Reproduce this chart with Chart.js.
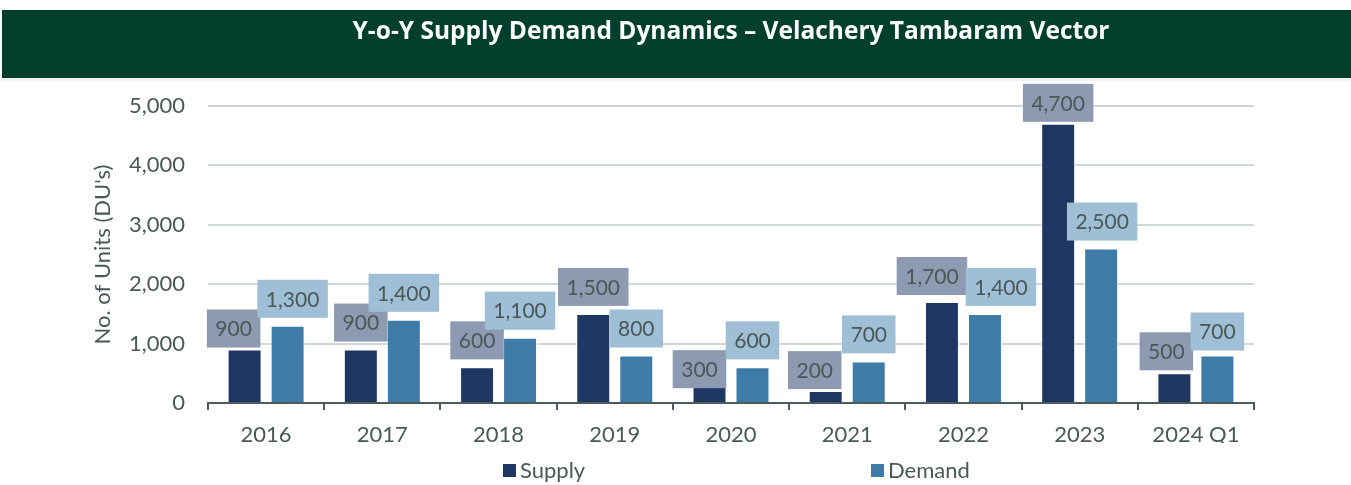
<!DOCTYPE html>
<html>
<head>
<meta charset="utf-8">
<script src="https://cdn.jsdelivr.net/npm/chart.js@4/dist/chart.umd.min.js"></script>
<style>
  html, body { margin: 0; padding: 0; background: #ffffff; }
  #wrap { position: relative; width: 1351px; height: 485px; }
</style>
</head>
<body>
<div id="wrap"><canvas id="c" width="1351" height="485"></canvas></div>
<script>
// ---- data ----
const categories = ['2016', '2017', '2018', '2019', '2020', '2021', '2022', '2023', '2024 Q1'];
const supplyValues = [900, 900, 600, 1500, 300, 200, 1700, 4700, 500];
const demandValues = [1300, 1400, 1100, 800, 600, 700, 1500, 2600, 800];
const supplyLabels = ['900', '900', '600', '1,500', '300', '200', '1,700', '4,700', '500'];
const demandLabels = ['1,300', '1,400', '1,100', '800', '600', '700', '1,400', '2,500', '700'];
const yTicks = [0, 1000, 2000, 3000, 4000, 5000];
const titleText = 'Y-o-Y Supply Demand Dynamics \u2013 Velachery Tambaram Vector';
const yTitle = "No. of Units (DU's)";
const seriesNames = ['Supply', 'Demand'];

// ---- style ----
const C = {
  supply: '#1f3763', demand: '#3e7ba7',
  supplyBox: '#8e99b2', demandBox: '#9ebfd6',
  text: '#4a5858', grid: '#d0d7d7', axis: '#4b5a5a', banner: '#013f2d'
};
const FONT = 'Lato, "Open Sans", sans-serif';

const bannerPlugin = {
  id: 'banner',
  beforeDraw(chart, args, opts) {
    const ctx = chart.ctx;
    ctx.save();
    ctx.fillStyle = '#ffffff';
    ctx.fillRect(0, 0, chart.width, chart.height);
    ctx.fillStyle = C.banner;
    ctx.fillRect(2, 10, chart.width - 2, 68);
    ctx.fillStyle = '#eff2f1';
    ctx.fillRect(2, 78, chart.width - 2, 3);
    ctx.fillStyle = '#ffffff';
    ctx.font = 'bold 24.5px "Open Sans", sans-serif';
    ctx.textAlign = 'center';
    ctx.textBaseline = 'middle';
    ctx.fillText(opts.text, 731, 32);
    ctx.restore();
  }
};

const labelPlugin = {
  id: 'boxLabels',
  afterDatasetsDraw(chart, args, opts) {
    const ctx = chart.ctx;
    ctx.save();
    ctx.font = '21px ' + FONT;
    ctx.textAlign = 'center';
    ctx.textBaseline = 'middle';
    chart.data.datasets.forEach((ds, di) => {
      const meta = chart.getDatasetMeta(di);
      const texts = opts.texts[di];
      const nudge = opts.nudges[di];
      meta.data.forEach((bar, i) => {
        const t = texts[i];
        const w = ctx.measureText(t).width + 17;
        const h = 38;
        const cx = bar.x + nudge[i][0];
        const bottom = bar.y - 8 + nudge[i][1];
        ctx.fillStyle = opts.boxColors[di];
        ctx.fillRect(cx - w / 2, bottom - h, w, h);
        ctx.fillStyle = C.text;
        ctx.fillText(t, cx, bottom - h / 2 + 1);
      });
    });
    ctx.restore();
  }
};

const legendPlugin = {
  id: 'customLegend',
  afterDraw(chart, args, opts) {
    const ctx = chart.ctx;
    ctx.save();
    ctx.font = '22px ' + FONT;
    ctx.textBaseline = 'middle';
    ctx.textAlign = 'left';
    opts.items.forEach(it => {
      ctx.fillStyle = it.color;
      ctx.fillRect(it.x, 464, 13, 13);
      ctx.fillStyle = C.text;
      ctx.fillText(it.text, it.x + 17, 471);
    });
    ctx.restore();
  }
};

new Chart(document.getElementById('c'), {
  type: 'bar',
  data: {
    labels: categories,
    datasets: [
      { label: seriesNames[0], data: supplyValues, backgroundColor: C.supply, borderColor: '#ffffff', borderWidth: 1,
        categoryPercentage: 0.74, barPercentage: 0.79 },
      { label: seriesNames[1], data: demandValues, backgroundColor: C.demand, borderColor: '#ffffff', borderWidth: 1,
        categoryPercentage: 0.74, barPercentage: 0.79 }
    ]
  },
  options: {
    responsive: false,
    animation: false,
    events: [],
    layout: { padding: { left: 0, right: 97, top: 106, bottom: 42 } },
    plugins: {
      legend: { display: false },
      tooltip: { enabled: false },
      title: { display: false },
      banner: { text: titleText },
      boxLabels: {
        texts: [supplyLabels, demandLabels],
        boxColors: [C.supplyBox, C.demandBox],
        nudges: [
          [[-11, 6], [0, 0], [0, 0], [0, 0], [-10, 11], [-11, 6], [-10, 1], [0, 6], [-8, 5]],
          [[5, 0], [0, 0], [0, 0], [0, 0], [0, 0], [0, 0], [16, 0], [1, 0], [0, 3]]
        ]
      },
      customLegend: {
        items: [
          { text: seriesNames[0], color: C.supply, x: 503 },
          { text: seriesNames[1], color: C.demand, x: 871 }
        ]
      }
    },
    scales: {
      x: {
        grid: { display: true, drawOnChartArea: false, drawTicks: true, tickLength: 7, color: C.axis, lineWidth: 2, offset: true },
        border: { display: true, color: C.axis, width: 2 },
        ticks: { color: C.text, font: { family: FONT, size: 22 }, padding: 12, maxRotation: 0, autoSkip: false },
        afterFit(s) { s.height = 40; }
      },
      y: {
        min: 0, max: 5000,
        afterBuildTicks(s) { s.ticks = yTicks.map(v => ({ value: v })); },
        grid: { color: (c) => c.tick && c.tick.value === 0 ? 'rgba(0,0,0,0)' : C.grid, lineWidth: 2, drawTicks: false },
        border: { display: false },
        ticks: { color: C.text, font: { family: FONT, size: 22 }, padding: 23,
          callback: (v) => v.toLocaleString('en-US') },
        title: { display: true, text: yTitle, color: C.text, font: { family: FONT, size: 22 }, padding: { top: 90, bottom: 0 } },
        afterFit(s) { s.width = 208; }
      }
    }
  },
  plugins: [bannerPlugin, labelPlugin, legendPlugin]
});
</script>
</body>
</html>
